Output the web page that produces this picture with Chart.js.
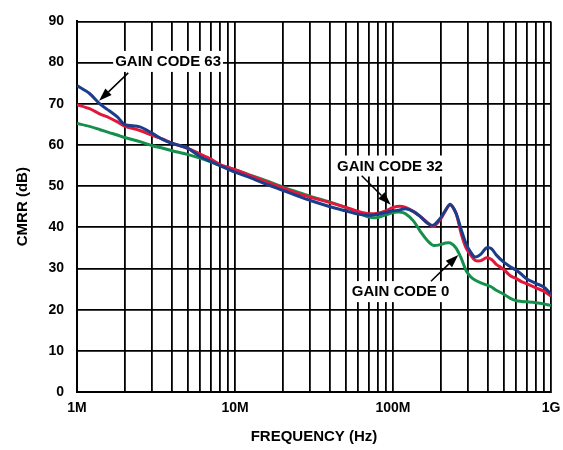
<!DOCTYPE html>
<html lang="en">
<head>
  <meta charset="UTF-8">
  <title>CMRR vs Frequency</title>
  <script src="https://cdn.jsdelivr.net/npm/chart.js"></script>
  <style>
    html, body { margin: 0; padding: 0; background: #fff; }
    #box { width: 563px; height: 450px; }
  </style>
</head>
<body>
  <div id="box"><canvas id="id_grafico"></canvas></div>

  <script>
    // frequency in MHz
    const freq = [1, 1.2, 1.4, 1.6, 1.8, 2, 2.5, 3, 3.5, 4, 5, 6, 7, 8, 10, 12, 15, 20, 25, 30, 40, 50, 60, 70, 80, 90,
      100, 110, 120, 135, 150, 165, 180, 200, 215, 230, 250, 270, 290, 310, 330, 360, 390, 420, 450, 500, 550, 600, 650,
      700, 800, 900, 1000];

    const code63 = [74.4, 72.5, 69.9, 68.3, 66.8, 65, 64.4, 62.8, 61.3, 60.4, 59.2, 57.2, 56, 55, 53.4, 52.3, 50.8, 49,
      47.6, 46.5, 45, 44, 43.2, 42.9, 43.2, 43.6, 44, 44.2, 44.5, 43.8, 42.5, 41, 40.5, 42.3, 44.2, 45.6, 43.5, 39.5, 36,
      34, 32.8, 33.5, 35, 34.8, 33.3, 31.6, 30.5, 29.6, 28.6, 27.5, 26.4, 25.5, 23.8];

    const code32 = [69.8, 68.8, 67.5, 66.6, 65.6, 64.6, 63.5, 62.3, 61.4, 60.4, 59.2, 57.8, 56.6, 55.3, 54, 52.8, 51.4,
      49.6, 48.2, 47.3, 46, 44.9, 43.9, 43.3, 43.4, 44, 44.8, 45.1, 44.8, 43.8, 42.5, 41.2, 40.2, 42, 44, 45.5, 43.5,
      38.5, 35, 33.3, 32, 31.9, 32.6, 32.2, 31, 29.8, 28.3, 27.6, 26.8, 26.3, 25.3, 24.5, 23.3];

    const code0 = [65.2, 64.5, 63.7, 63, 62.4, 61.8, 60.8, 59.8, 59.2, 58.6, 57.7, 56.8, 55.9, 55.1, 54, 52.9, 51.6, 49.8,
      48.5, 47.5, 46.1, 44.8, 43.6, 42.5, 42.4, 43, 43.6, 43.7, 43.3, 41.5, 38.8, 36.8, 35.6, 35.8, 36.2, 36.2, 35, 32.5,
      29.5, 28, 27.2, 26.5, 26, 25.5, 24.7, 23.8, 22.8, 22.2, 22, 21.9, 21.7, 21.4, 21];

    const xDecades = [1, 10, 100, 1000];
    const xTickLabels = ['1M', '10M', '100M', '1G'];
    const yTicks = [0, 10, 20, 30, 40, 50, 60, 70, 80, 90];

    const fonte = 'Liberation Sans, Arial, Helvetica, sans-serif';

    // vertical grid at 1..9 of every decade
    var xGrid = [];
    for (var d = 0; d < xDecades.length - 1; d++) {
      for (var m = 1; m <= 9; m++) xGrid.push(xDecades[d] * m);
    }
    xGrid.push(xDecades[xDecades.length - 1]);

    function pontos(valores) {
      return freq.map(function (f, i) { return { x: f, y: valores[i] }; });
    }

    // text labels with arrows (data coordinates)
    const notas = [
      { text: 'GAIN CODE 63', x: 3.77, y: 80.4, from: [2.11, 77.5], to: [1.38, 70.7] },
      { text: 'GAIN CODE 32', x: 95.7, y: 55, from: [63.4, 52.5], to: [96.7, 45.5] },
      { text: 'GAIN CODE 0', x: 111.5, y: 24.5, from: [174, 26.9], to: [259, 33.3] }
    ];

    const pluginNotas = {
      id: 'notas',
      afterDatasetsDraw(chart) {
        const c = chart.ctx;
        const sx = chart.scales.x, sy = chart.scales.y;
        c.save();
        c.font = 'bold 15px ' + fonte;
        c.textAlign = 'center';
        c.textBaseline = 'middle';
        notas.forEach(function (n) {
          var px = sx.getPixelForValue(n.x), py = sy.getPixelForValue(n.y);
          var w = c.measureText(n.text).width;
          c.fillStyle = '#fff';
          c.fillRect(px - w / 2 - 2, py - 10, w + 4, 21);
          c.fillStyle = '#000';
          c.fillText(n.text, px, py + 1);

          // arrow
          var x1 = sx.getPixelForValue(n.from[0]), y1 = sy.getPixelForValue(n.from[1]);
          var x2 = sx.getPixelForValue(n.to[0]), y2 = sy.getPixelForValue(n.to[1]);
          var ang = Math.atan2(y2 - y1, x2 - x1);
          var len = 13, meia = 4.5;
          var bx = x2 - len * Math.cos(ang), by = y2 - len * Math.sin(ang);
          c.strokeStyle = '#000';
          c.lineWidth = 1.5;
          c.beginPath();
          c.moveTo(x1, y1);
          c.lineTo(bx, by);
          c.stroke();
          c.beginPath();
          c.moveTo(x2, y2);
          c.lineTo(bx + meia * Math.sin(ang), by - meia * Math.cos(ang));
          c.lineTo(bx - meia * Math.sin(ang), by + meia * Math.cos(ang));
          c.closePath();
          c.fill();
        });
        c.restore();
      }
    };

    const ctx = document.getElementById('id_grafico').getContext('2d');
    var grafico = new Chart(ctx, {
      type: 'line',
      data: {
        datasets: [
          { label: 'GAIN CODE 63', data: pontos(code63), borderColor: '#1b3d8c', order: 1 },
          { label: 'GAIN CODE 32', data: pontos(code32), borderColor: '#e2173a', order: 2 },
          { label: 'GAIN CODE 0', data: pontos(code0), borderColor: '#15904c', order: 3 }
        ]
      },
      options: {
        responsive: true,
        maintainAspectRatio: false,
        animation: false,
        layout: { padding: { top: 14, right: 12, left: 0, bottom: 0 } },
        elements: {
          point: { radius: 0 },
          line: { borderWidth: 3, tension: 0.3, fill: false }
        },
        plugins: {
          legend: { display: false },
          tooltip: { enabled: false }
        },
        scales: {
          x: {
            type: 'logarithmic',
            min: 1,
            max: 1000,
            afterBuildTicks: function (scale) {
              scale.ticks = xGrid.map(function (v) { return { value: v }; });
            },
            afterFit: function (scale) {
              scale.height = 58;
              scale.paddingLeft = 0;
              scale.paddingRight = 0;
            },
            grid: { color: '#000', lineWidth: 1.8, drawTicks: false },
            border: { color: '#000', width: 2 },
            ticks: {
              autoSkip: false,
              maxRotation: 0,
              padding: 8,
              color: '#000',
              font: { family: fonte, size: 14, weight: 'bold' },
              callback: function (value) {
                var i = xDecades.indexOf(value);
                return i >= 0 ? xTickLabels[i] : '';
              }
            },
            title: {
              display: true,
              text: 'FREQUENCY (Hz)',
              color: '#000',
              padding: { top: 0, bottom: 4 },
              font: { family: fonte, size: 15, weight: 'bold' }
            }
          },
          y: {
            min: 0,
            max: 90,
            afterBuildTicks: function (scale) {
              scale.ticks = yTicks.map(function (v) { return { value: v }; });
            },
            afterFit: function (scale) { scale.width = 77; },
            grid: { color: '#000', lineWidth: 1.8, drawTicks: false },
            border: { color: '#000', width: 2 },
            ticks: {
              padding: 13,
              color: '#000',
              font: { family: fonte, size: 14, weight: 'bold' }
            },
            title: {
              display: true,
              text: 'CMRR (dB)',
              color: '#000',
              padding: { top: 14, bottom: 0 },
              font: { family: fonte, size: 15, weight: 'bold' }
            }
          }
        }
      },
      plugins: [pluginNotas]
    });
  </script>
</body>
</html>
